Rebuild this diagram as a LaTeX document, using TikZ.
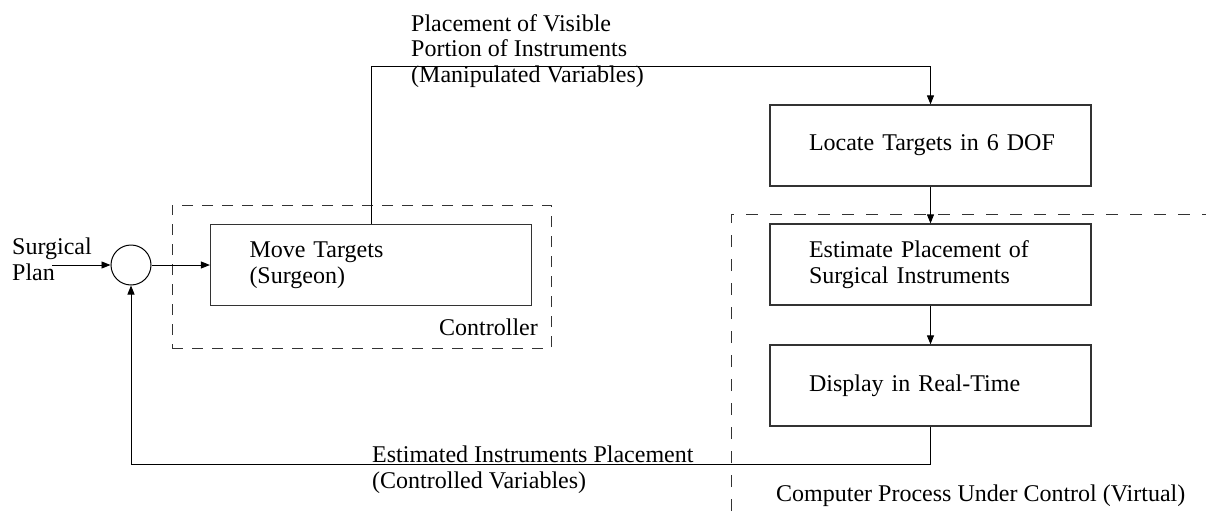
\documentclass[tikz,border=0pt]{standalone}
\usepackage{fontspec}
\setmainfont{Liberation Serif}
\usetikzlibrary{arrows.meta}
\begin{document}
\begin{tikzpicture}[x=1pt,y=-1pt,
  every node/.style={font=\fontsize{24}{25.5}\selectfont, inner sep=0pt},
  blockbox/.style={draw=black!80, line width=1.2pt, minimum width=321pt, minimum height=81pt,
     inner xsep=39pt, text width=243pt, align=left},
  conn/.style={line width=0.9pt, -{Triangle[length=9pt,width=7pt]}},
  dashbox/.style={draw=black!80, line width=1pt, dash pattern=on 11pt off 9pt},
  dashbig/.style={draw=black!80, line width=1pt, dash pattern=on 12pt off 12pt}]
\useasboundingbox (0,0) rectangle (1206,511);
% controller region
\node[dashbox, minimum width=379pt, minimum height=143pt] (ctrl) at (361.5,276.5) {};
\node[anchor=base east] (ctrllbl) at (538,335) {Controller};
% computer process region
\coordinate (cpA) at (731,511);
\coordinate (cpB) at (731,214);
\coordinate (cpC) at (1206,214);
\draw[dashbig] (cpA) -- (cpB) -- (cpC);
\node[anchor=base west] (cplbl) at (776,501) {Computer Process Under Control (Virtual)};
% blocks
\node[anchor=base west, align=left] (plan) at (12,280) {Surgical\\Plan};
\coordinate (planend) at (52,265);
\node[draw, circle, line width=1pt, minimum size=40pt] (sum) at (131,265) {};
\node[blockbox] (move) at (371,265) {Move Targets\\(Surgeon)};
\node[blockbox] (locate) at (930.5,145.5) {\mbox{Locate Targets in 6 DOF}};
\node[blockbox] (estimate) at (930.5,264.5) {Estimate Placement of\\Surgical Instruments};
\node[blockbox] (display) at (930.5,385.5) {Display in Real-Time};
% connectors
\draw[conn] (planend) -- (sum.west);
\draw[conn] (sum.east) -- (move.west);
\coordinate (topL) at (371,66);
\coordinate (topR) at (930.5,66);
\draw[conn] (move.north) -- (topL) -- (topR) -- (locate.north);
\draw[conn] (locate.south) -- (estimate.north);
\draw[conn] (estimate.south) -- (display.north);
\coordinate (botR) at (930.5,464);
\coordinate (botL) at (131,464);
\draw[conn] (display.south) -- (botR) -- (botL) -- (sum.south);
% labels
\node[anchor=base west, align=left] (toplbl) at (411,82) {Placement of Visible\\Portion of Instruments\\(Manipulated Variables)};
\node[anchor=base west, align=left] (botlbl) at (372,488) {Estimated Instruments Placement\\(Controlled Variables)};
\end{tikzpicture}
\end{document}
